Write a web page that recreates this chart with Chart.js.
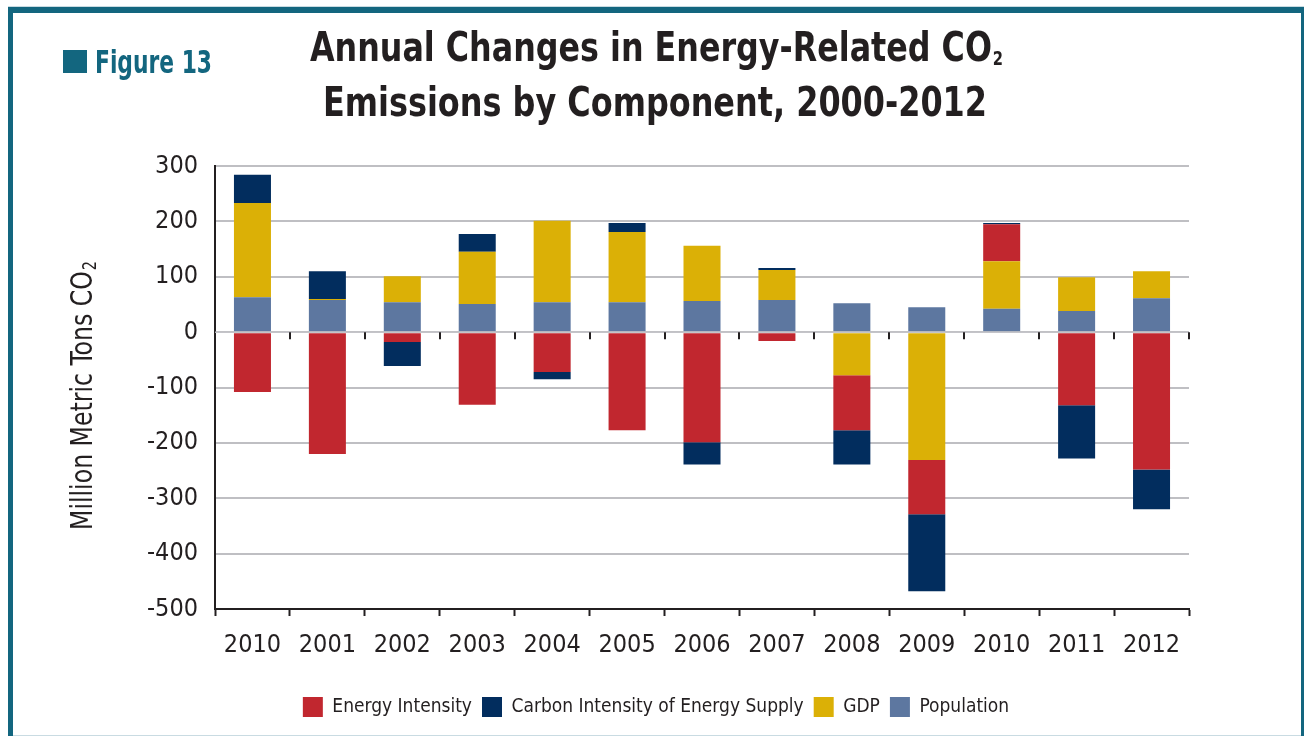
<!DOCTYPE html>
<html>
<head>
<meta charset="utf-8">
<title>Annual Changes in Energy-Related CO2 Emissions by Component, 2000-2012</title>
<script src="https://cdn.jsdelivr.net/npm/chart.js@4.4.1/dist/chart.umd.min.js"></script>
<style>
  html, body { margin: 0; padding: 0; background: #ffffff; }
  #wrap { width: 1304px; height: 736px; }
  canvas { display: block; }
</style>
</head>
<body>
<div id="wrap"><canvas id="chart" width="1304" height="736"></canvas></div>
<script>
// Year labels along the category axis
const years = ['2010', '2001', '2002', '2003', '2004', '2005', '2006', '2007', '2008', '2009', '2010', '2011', '2012'];

// Annual change in emissions attributed to each component (million metric tons CO2)
const population       = [63, 58, 54, 51, 54, 54, 56, 58, 52, 45, 42, 38, 61];
const gdp              = [170, 2, 47, 94, 147, 127, 100, 54, -78, -231, 86, 61, 49];
const energyIntensity  = [-108, -220, -18, -131, -72, -177, -199, -16, -99, -98, 67, -132, -248];
const carbonIntensity  = [51, 50, -43, 32, -13, 16, -40, 4, -62, -139, 2, -96, -72];

// Value axis ticks
const yTicks = [-500, -400, -300, -200, -100, 0, 100, 200, 300];

// Legend reading order
const legendOrder = ['Energy Intensity', 'Carbon Intensity of Energy Supply', 'GDP', 'Population'];

const INK = '#231f20';
const TEAL = '#13667f';
const GRID = '#bfbfc3';
const FONT = "'Liberation Sans Narrow', 'Arial Narrow', 'DejaVu Sans Condensed', sans-serif";

// Draws text squeezed horizontally to a given width, with an optional subscript tail
function drawFitted(ctx, main, sub, x, y, size, subSize, subDrop, weight, width, align) {
  ctx.font = weight + ' ' + size + 'px ' + FONT;
  const wMain = ctx.measureText(main).width;
  let wSub = 0;
  if (sub) {
    ctx.font = weight + ' ' + subSize + 'px ' + FONT;
    wSub = ctx.measureText(sub).width + 1;
  }
  const natural = wMain + wSub;
  const sx = width / natural;
  let left = x;
  if (align === 'center') left = x - width / 2;
  ctx.save();
  ctx.translate(left, y);
  ctx.scale(sx, 1);
  ctx.textAlign = 'left';
  ctx.textBaseline = 'alphabetic';
  ctx.font = weight + ' ' + size + 'px ' + FONT;
  ctx.fillText(main, 0, 0);
  if (sub) {
    ctx.font = weight + ' ' + subSize + 'px ' + FONT;
    ctx.fillText(sub, wMain + 1, subDrop);
  }
  ctx.restore();
}

const decorations = {
  id: 'decorations',
  beforeDraw(chart) {
    const ctx = chart.ctx;
    ctx.save();
    ctx.fillStyle = '#ffffff';
    ctx.fillRect(0, 0, chart.width, chart.height);
    // page frame
    ctx.fillStyle = '#c9dbe2';
    ctx.fillRect(8, 6, 1296, 1);
    ctx.fillRect(13, 735, 1291, 1);
    ctx.fillStyle = TEAL;
    ctx.fillRect(8, 7, 1296, 6);
    ctx.fillRect(8, 7, 5, 729);
    ctx.fillRect(1301, 7, 3, 729);
    ctx.restore();
  },
  afterDatasetsDraw(chart) {
    const ctx = chart.ctx;
    const xs = chart.scales.x;
    const ys = chart.scales.y;
    const y0 = ys.getPixelForValue(0);
    ctx.save();
    // zero line over the bars
    ctx.strokeStyle = 'rgba(196,196,202,0.85)';
    ctx.lineWidth = 1.5;
    ctx.beginPath();
    ctx.moveTo(chart.chartArea.left, y0);
    ctx.lineTo(chart.chartArea.right, y0);
    ctx.stroke();
    // category separators hanging below the zero line
    const half = (xs.getPixelForValue(1) - xs.getPixelForValue(0)) / 2;
    ctx.strokeStyle = INK;
    ctx.lineWidth = 2;
    for (let i = 1; i <= years.length; i++) {
      const bx = Math.round(xs.getPixelForValue(i) - half);
      ctx.beginPath();
      ctx.moveTo(bx, y0);
      ctx.lineTo(bx, y0 + 7);
      ctx.stroke();
    }
    ctx.restore();
  },
  afterDraw(chart) {
    const ctx = chart.ctx;
    ctx.save();
    // figure tag
    ctx.fillStyle = TEAL;
    ctx.fillRect(63, 50, 24, 23);
    drawFitted(ctx, 'Figure 13', null, 95, 73, 32, 0, 0, 'bold', 117, 'left');
    // chart title
    ctx.fillStyle = INK;
    drawFitted(ctx, 'Annual Changes in Energy-Related CO', '2', 656.5, 61, 41, 19, 4, 'bold', 693, 'center');
    drawFitted(ctx, 'Emissions by Component, 2000-2012', null, 655, 116, 41, 0, 0, 'bold', 664, 'center');
    // value axis title
    ctx.save();
    ctx.translate(92, 530);
    ctx.rotate(-Math.PI / 2);
    drawFitted(ctx, 'Million Metric Tons CO', '2', 0, 0, 31, 19, 4, 'normal', 269, 'left');
    ctx.restore();
    ctx.restore();
  }
};

const chart = new Chart(document.getElementById('chart'), {
  type: 'bar',
  data: {
    labels: years,
    datasets: [
      { label: 'Population', data: population, backgroundColor: '#5d77a0' },
      { label: 'GDP', data: gdp, backgroundColor: '#dbb006' },
      { label: 'Energy Intensity', data: energyIntensity, backgroundColor: '#c1272f' },
      { label: 'Carbon Intensity of Energy Supply', data: carbonIntensity, backgroundColor: '#022d5e' }
    ]
  },
  options: {
    responsive: false,
    animation: false,
    devicePixelRatio: 1,
    layout: { padding: { left: 123, right: 115, top: 166, bottom: 9 } },
    datasets: { bar: { categoryPercentage: 1, barPercentage: 0.494, borderWidth: 0 } },
    scales: {
      x: {
        stacked: true,
        grid: {
          display: true, drawOnChartArea: false, drawTicks: true, offset: true,
          tickLength: 7, tickWidth: 2, tickColor: INK
        },
        border: { display: true, color: INK, width: 2 },
        ticks: {
          color: INK, padding: 14, maxRotation: 0, autoSkip: false,
          font: { family: FONT, size: 25 }
        },
        afterFit(scale) { scale.height = 78; }
      },
      y: {
        stacked: true,
        min: yTicks[0],
        max: yTicks[yTicks.length - 1],
        afterBuildTicks(scale) { scale.ticks = yTicks.map(v => ({ value: v })); },
        ticks: {
          color: INK, padding: 17,
          font: { family: FONT, size: 25 },
          callback: v => String(v)
        },
        grid: {
          drawTicks: false, lineWidth: 2,
          color: c => (c.tick && c.tick.value === yTicks[0]) ? INK : GRID
        },
        border: { display: true, color: INK, width: 2 },
        afterFit(scale) { scale.width = 92; }
      }
    },
    plugins: {
      tooltip: { enabled: false },
      title: { display: false },
      legend: {
        position: 'bottom',
        labels: {
          color: INK, boxWidth: 20, boxHeight: 20, padding: 10,
          font: { family: FONT, size: 19 },
          sort: (a, b) => legendOrder.indexOf(a.text) - legendOrder.indexOf(b.text)
        }
      }
    }
  },
  plugins: [decorations]
});
</script>
</body>
</html>
